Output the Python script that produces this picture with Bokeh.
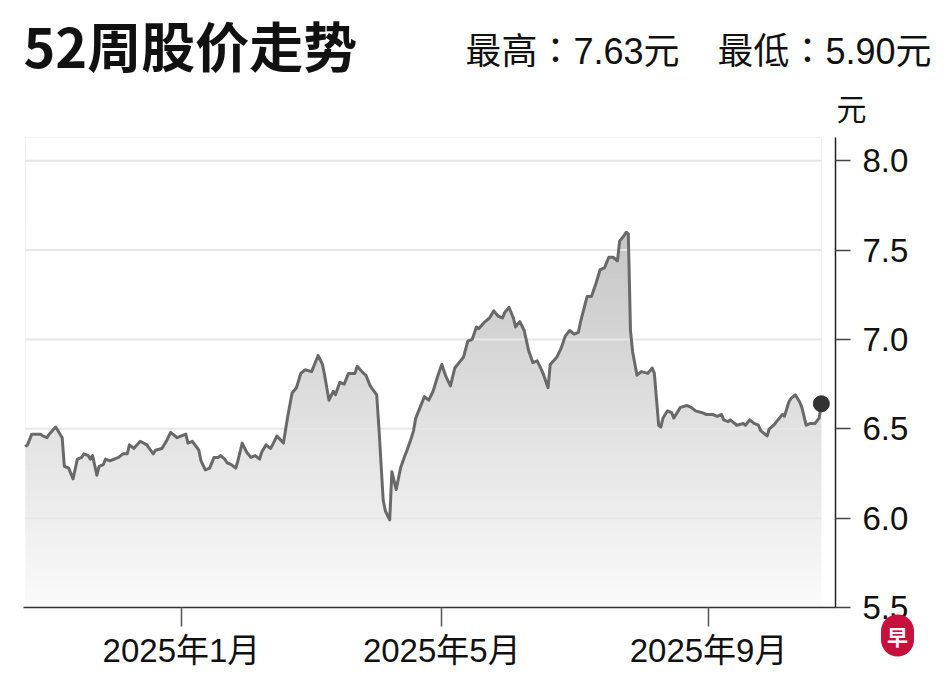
import numpy as np
import pandas as pd
from bokeh.plotting import figure
from bokeh.layouts import column
from bokeh.models import Range1d, FixedTicker, PrintfTickFormatter, Label
from bokeh.core.properties import value
from bokeh.embed import file_html
from bokeh.resources import INLINE

# ---------------- data ----------------
dates = [
    "2024-10-21", "2024-10-22", "2024-10-24", "2024-10-25", "2024-10-28", "2024-10-29", "2024-10-31",
    "2024-11-01", "2024-11-04", "2024-11-05", "2024-11-07", "2024-11-08", "2024-11-10", "2024-11-12",
    "2024-11-14", "2024-11-16", "2024-11-17", "2024-11-19", "2024-11-20", "2024-11-21", "2024-11-23",
    "2024-11-24", "2024-11-26", "2024-11-27", "2024-11-29", "2024-12-01", "2024-12-03", "2024-12-05",
    "2024-12-07", "2024-12-08", "2024-12-10", "2024-12-13", "2024-12-16", "2024-12-19", "2024-12-20",
    "2024-12-23", "2024-12-25", "2024-12-27", "2024-12-30", "2025-01-01", "2025-01-03", "2025-01-04",
    "2025-01-06", "2025-01-09", "2025-01-10", "2025-01-12", "2025-01-14", "2025-01-16", "2025-01-18",
    "2025-01-19", "2025-01-21", "2025-01-22", "2025-01-24", "2025-01-26", "2025-01-27", "2025-01-29",
    "2025-01-31", "2025-02-02", "2025-02-04", "2025-02-06", "2025-02-07", "2025-02-09", "2025-02-11",
    "2025-02-12", "2025-02-14", "2025-02-17", "2025-02-19", "2025-02-21", "2025-02-23", "2025-02-25",
    "2025-02-27", "2025-03-02", "2025-03-05", "2025-03-07", "2025-03-08", "2025-03-10", "2025-03-12",
    "2025-03-13", "2025-03-15", "2025-03-17", "2025-03-19", "2025-03-22", "2025-03-23", "2025-03-26",
    "2025-03-27", "2025-03-29", "2025-04-01", "2025-04-02", "2025-04-04", "2025-04-05", "2025-04-07",
    "2025-04-08", "2025-04-10", "2025-04-12", "2025-04-14", "2025-04-15", "2025-04-17", "2025-04-18",
    "2025-04-19", "2025-04-21", "2025-04-23", "2025-04-25", "2025-04-27", "2025-04-29", "2025-05-01",
    "2025-05-03", "2025-05-05", "2025-05-07", "2025-05-09", "2025-05-11", "2025-05-13", "2025-05-15",
    "2025-05-17", "2025-05-18", "2025-05-21", "2025-05-23", "2025-05-25", "2025-05-27", "2025-05-29",
    "2025-05-30", "2025-06-01", "2025-06-03", "2025-06-04", "2025-06-06", "2025-06-08", "2025-06-10",
    "2025-06-12", "2025-06-14", "2025-06-16", "2025-06-17", "2025-06-19", "2025-06-20", "2025-06-23",
    "2025-06-25", "2025-06-27", "2025-06-29", "2025-07-01", "2025-07-03", "2025-07-04", "2025-07-07",
    "2025-07-09", "2025-07-11", "2025-07-13", "2025-07-15", "2025-07-17", "2025-07-19", "2025-07-21",
    "2025-07-22", "2025-07-24", "2025-07-25", "2025-07-26", "2025-07-27", "2025-07-28", "2025-07-30",
    "2025-08-01", "2025-08-04", "2025-08-06", "2025-08-07", "2025-08-09", "2025-08-10", "2025-08-11",
    "2025-08-13", "2025-08-15", "2025-08-16", "2025-08-19", "2025-08-22", "2025-08-24", "2025-08-26",
    "2025-08-29", "2025-08-31", "2025-09-03", "2025-09-05", "2025-09-07", "2025-09-08", "2025-09-10",
    "2025-09-11", "2025-09-13", "2025-09-14", "2025-09-17", "2025-09-18", "2025-09-20", "2025-09-22",
    "2025-09-24", "2025-09-25", "2025-09-28", "2025-09-29", "2025-10-01", "2025-10-03", "2025-10-05",
    "2025-10-06", "2025-10-08", "2025-10-09", "2025-10-11", "2025-10-13", "2025-10-14", "2025-10-16",
    "2025-10-18", "2025-10-20", "2025-10-22", "2025-10-23",
]
prices = [
    6.40, 6.41, 6.47, 6.47, 6.47, 6.46, 6.45,
    6.47, 6.51, 6.49, 6.45, 6.29, 6.28, 6.22,
    6.33, 6.34, 6.36, 6.35, 6.33, 6.35, 6.24,
    6.29, 6.30, 6.33, 6.32, 6.33, 6.34, 6.36,
    6.36, 6.41, 6.39, 6.43, 6.41, 6.36, 6.38,
    6.39, 6.43, 6.48, 6.45, 6.46, 6.47, 6.42,
    6.43, 6.38, 6.32, 6.27, 6.28, 6.34, 6.34,
    6.35, 6.33, 6.31, 6.30, 6.28, 6.32, 6.42,
    6.37, 6.34, 6.35, 6.33, 6.37, 6.41, 6.39,
    6.41, 6.46, 6.42, 6.57, 6.70, 6.73, 6.81,
    6.83, 6.82, 6.91, 6.86, 6.80, 6.66, 6.71,
    6.69, 6.76, 6.75, 6.81, 6.81, 6.85, 6.81,
    6.80, 6.74, 6.69, 6.51, 6.10, 6.04, 5.99,
    6.26, 6.16, 6.28, 6.35, 6.38, 6.45, 6.49,
    6.56, 6.62, 6.68, 6.66, 6.71, 6.79, 6.86,
    6.79, 6.74, 6.84, 6.87, 6.90, 6.99, 7.00,
    7.07, 7.06, 7.10, 7.12, 7.16, 7.13, 7.12,
    7.15, 7.18, 7.12, 7.07, 7.10, 7.05, 6.94,
    6.87, 6.88, 6.83, 6.80, 6.73, 6.86, 6.90,
    6.95, 7.02, 7.05, 7.03, 7.04, 7.10, 7.24,
    7.24, 7.31, 7.39, 7.40, 7.46, 7.46, 7.44,
    7.55, 7.58, 7.60, 7.59, 7.05, 6.93, 6.80,
    6.82, 6.81, 6.84, 6.81, 6.52, 6.51, 6.56,
    6.60, 6.59, 6.56, 6.62, 6.63, 6.62, 6.60,
    6.59, 6.58, 6.58, 6.57, 6.58, 6.55, 6.54,
    6.55, 6.53, 6.52, 6.53, 6.52, 6.55, 6.53,
    6.52, 6.49, 6.46, 6.50, 6.52, 6.55, 6.58,
    6.57, 6.65, 6.67, 6.69, 6.65, 6.62, 6.52,
    6.53, 6.53, 6.56, 6.64,
]

title_text = "52周股价走势"
high_text = "最高：7.63元"
low_text = "最低：5.90元"
unit_text = "元"
logo_text = "早"
x_tick_dates = ["2025-01-01", "2025-05-01", "2025-09-01"]
x_tick_labels = ["2025年1月", "2025年5月", "2025年9月"]
y_ticks = [5.5, 6.0, 6.5, 7.0, 7.5, 8.0]
grid_values = [6.0, 6.5, 7.0, 7.5, 8.0]

# ---------------- helpers ----------------
def ms(s):
    return pd.Timestamp(s).value / 1e6

x = np.array([ms(d) for d in dates])
y = np.array(prices)

X0, X1 = ms("2024-10-20 04:00"), ms("2025-10-29 12:30")
Y0, Y1 = 5.5, 8.13

W = 939
HEAD_H = 130
FRAME_W, FRAME_H = 812, 470
LEFT = 23
RIGHT = W - LEFT - FRAME_W
FRAME_TOP_PAGE = 137   # page y of the chart frame's top edge
FRAME_LEFT_PAGE = 24   # page x of the chart frame's left edge

def xd(px):  # page pixel -> chart data x (annotation placement only)
    return X0 + (px - FRAME_LEFT_PAGE) / FRAME_W * (X1 - X0)

def yd(py):  # page pixel -> chart data y (annotation placement only)
    return Y0 + (FRAME_TOP_PAGE + FRAME_H - py) / FRAME_H * (Y1 - Y0)

CJK = "Noto Sans CJK SC"
NUM = "Liberation Sans, Noto Sans CJK SC"
HEAD_FONT = "Liberation Sans, Noto Sans CJK TC"

# ---------------- header figure (title, high/low, unit) ----------------
# column() aligns the plot borders, so the header frame starts where the chart frame does
HEAD_W = W - LEFT
h = figure(frame_width=HEAD_W, frame_height=HEAD_H,
           x_range=Range1d(0, HEAD_W), y_range=Range1d(HEAD_H, 0),
           x_axis_location=None, y_axis_location=None,
           output_backend="svg", toolbar_location=None,
           min_border_left=LEFT, min_border_right=RIGHT,
           min_border_top=0, min_border_bottom=0,
           background_fill_color="white", border_fill_color="white",
           outline_line_color=None)
h.grid.visible = False
h.text(x=[0], y=[44], text=[title_text], text_align="left", text_baseline="middle",
       text_font=value(CJK), text_font_style="bold", text_font_size="54px",
       text_color="#111111")
h.text(x=[656, 908], y=[51, 51], text=[high_text, low_text], text_align="right",
       text_baseline="middle", text_font=value(HEAD_FONT), text_font_size="36px",
       text_color="#111111")
h.text(x=[813], y=[106], text=[unit_text], text_align="left", text_baseline="middle",
       text_font=value(CJK), text_font_size="30px", text_color="#111111")

# ---------------- main chart ----------------
p = figure(frame_width=FRAME_W, frame_height=FRAME_H,
           x_axis_type="datetime", y_axis_location="right",
           x_range=Range1d(X0, X1), y_range=Range1d(Y0, Y1),
           output_backend="svg", toolbar_location=None,
           min_border_left=LEFT, min_border_right=RIGHT,
           min_border_top=7, min_border_bottom=69,
           background_fill_color="white", border_fill_color="white",
           outline_line_color=None)
p.xgrid.visible = False
p.ygrid.visible = False

# vertical gradient fill under the line: gradient image, then white mask above the line
rows = 240
lv = np.linspace(Y0, Y1, rows)
g = np.clip(251 - 25.0 * (lv - 5.5), 190, 252).astype(np.uint8)
img = np.empty((rows, 1), dtype=np.uint32)
view = img.view(dtype=np.uint8).reshape((rows, 1, 4))
view[:, 0, 0] = g
view[:, 0, 1] = g
view[:, 0, 2] = g
view[:, 0, 3] = 255
p.image_rgba(image=[img], x=x[0], y=Y0, dw=x[-1] - x[0], dh=Y1 - Y0)
p.varea(x=x, y1=y, y2=Y1, fill_color="white")

# grid lines over the data span
p.segment(x0=x[0], y0=grid_values, x1=x[-1], y1=grid_values,
          line_color="#e7e7e7", line_width=2)

p.line(x, y, line_color="#696969", line_width=3, line_join="round")
p.scatter(x=[x[-1]], y=[y[-1]], size=16, color="#333333")

# axes
xa = p.xaxis[0]
xa.ticker = FixedTicker(ticks=[ms(d) for d in x_tick_dates])
xa.major_label_overrides = {ms(d): lab for d, lab in zip(x_tick_dates, x_tick_labels)}
xa.axis_line_color = "#333333"
xa.axis_line_width = 1.5
xa.major_tick_line_color = "#555555"
xa.major_tick_line_width = 1.5
xa.major_tick_out = 19
xa.major_tick_in = 0
xa.minor_tick_line_color = None
xa.major_label_text_font = NUM
xa.major_label_text_font_size = "33px"
xa.major_label_text_color = "#111111"
xa.major_label_standoff = 5

ya = p.yaxis[0]
ya.ticker = FixedTicker(ticks=y_ticks)
ya.formatter = PrintfTickFormatter(format="%.1f")
ya.axis_line_color = "#222222"
ya.axis_line_width = 1.5
ya.major_tick_line_color = "#444444"
ya.major_tick_line_width = 1.5
ya.major_tick_out = 15
ya.major_tick_in = 0
ya.minor_tick_line_color = None
ya.major_label_text_font = NUM
ya.major_label_text_font_size = "33px"
ya.major_label_text_color = "#111111"
ya.major_label_standoff = 12

# small red badge at the bottom right (side-panel annotation, so it is not clipped to the frame)
p.add_layout(Label(x=xd(898), y=yd(635), text=logo_text, text_align="center",
                   text_baseline="middle", text_font=CJK, text_font_style="bold",
                   text_font_size="21px", text_color="white",
                   background_fill_color="#c8103c", border_radius=17, padding=6),
             "below")

layout = column(h, p, spacing=0)
open("out.html", "w").write(file_html(layout, INLINE))
